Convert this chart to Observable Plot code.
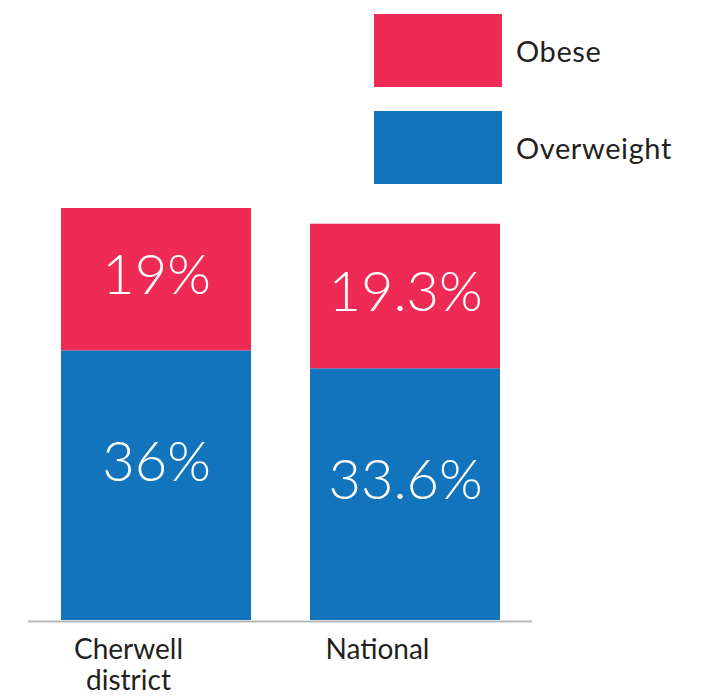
<!DOCTYPE html>
<html>
<head>
<meta charset="utf-8">
<script src="https://cdn.jsdelivr.net/npm/d3@7"></script>
<script src="https://cdn.jsdelivr.net/npm/@observablehq/plot@0.6"></script>
<style>
  html, body { margin: 0; padding: 0; background: #fff; }
  #wrap { position: relative; width: 710px; height: 698px; font-family: Lato, "Noto Sans", sans-serif; }
  .legend-item { position: absolute; left: 374px; display: flex; align-items: center; }
  .legend-item .sw { width: 128px; height: 73px; }
  .legend-item .lb { margin-left: 14px; font-size: 29px; letter-spacing: 0.6px; color: #231f20; }
</style>
</head>
<body>
<div id="wrap"></div>
<script>
const categories = ["Cherwell district", "National"];
const categoryLabels = ["Cherwell\ndistrict", "National"];
const seriesNames = ["Overweight", "Obese"];
const seriesColors = ["#1174bc", "#ee2a55"];
const overweight = [36, 33.6];
const obese = [19, 19.3];
const overweightLabels = ["36%", "33.6%"];
const obeseLabels = ["19%", "19.3%"];

const bars = categories.flatMap((c, i) => [
  {cat: c, series: "Overweight", value: overweight[i]},
  {cat: c, series: "Obese", value: obese[i]}
]);
const labels = categories.flatMap((c, i) => [
  {cat: c, y: overweight[i] - 15, text: overweightLabels[i]},
  {cat: c, y: overweight[i] + obese[i] / 2 + 0.5, text: obeseLabels[i]}
]);
const axisLabels = categories.map((c, i) => ({cat: c, text: categoryLabels[i]}));

const chart = Plot.plot({
  width: 710,
  height: 698,
  marginTop: 208,
  marginBottom: 78,
  marginLeft: 28,
  marginRight: 178,
  style: {fontFamily: "Lato, 'Noto Sans', sans-serif", background: "transparent"},
  x: {domain: categories, paddingInner: 0.237, paddingOuter: 0.13, axis: null},
  y: {domain: [0, 55], axis: null},
  color: {domain: seriesNames, range: seriesColors},
  marks: [
    Plot.barY(bars, {x: "cat", y: "value", fill: "series"}),
    Plot.ruleY([0], {stroke: "#b8b8b8", strokeWidth: 2, dy: 1}),
    Plot.text(labels, {x: "cat", y: "y", text: "text", fill: "white", fontSize: 56, fontWeight: 300}),
    Plot.text(axisLabels, {x: "cat", y: () => 0, text: "text", fill: "#231f20", fontSize: 28, lineAnchor: "top", lineHeight: 1.1, dy: 17, dx: -28})
  ]
});
const wrap = document.getElementById("wrap");
wrap.appendChild(chart);

const legendItems = [
  {name: "Obese", color: seriesColors[1], top: 14},
  {name: "Overweight", color: seriesColors[0], top: 111}
];
for (const it of legendItems) {
  const d = document.createElement("div");
  d.className = "legend-item";
  d.style.top = it.top + "px";
  const sw = document.createElement("div");
  sw.className = "sw";
  sw.style.background = it.color;
  const lb = document.createElement("div");
  lb.className = "lb";
  lb.textContent = it.name;
  d.appendChild(sw); d.appendChild(lb);
  wrap.appendChild(d);
}
</script>
</body>
</html>
